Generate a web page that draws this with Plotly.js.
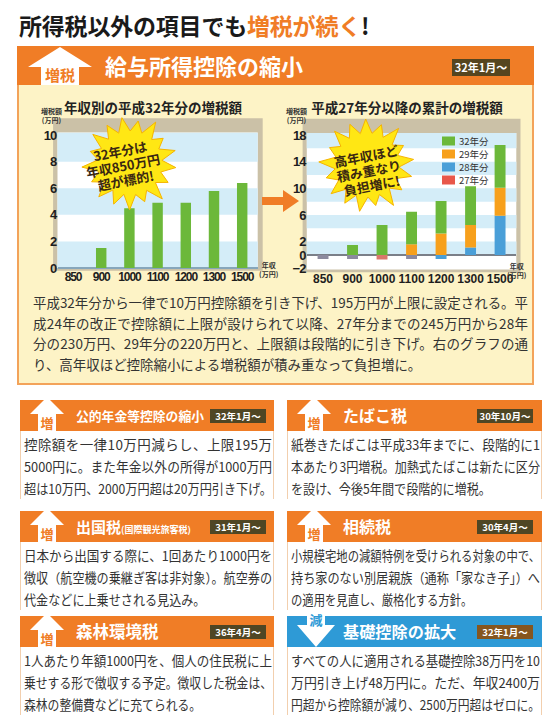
<!DOCTYPE html>
<html lang="ja"><head><meta charset="utf-8">
<script src="https://cdn.plot.ly/plotly-3.0.1.min.js"></script>
<style>
html,body{margin:0;padding:0;}
body{width:550px;height:720px;background:#fff;position:relative;overflow:hidden;font-family:"Noto Sans CJK JP","Noto Sans",sans-serif;color:#333;}
.a{position:absolute;}
#title{left:19px;top:8px;font-size:23px;font-weight:700;color:#1a1a1a;white-space:nowrap;line-height:34px;letter-spacing:-0.2px;}
#title .or{color:#f07d26;}
#mainHead{left:17px;top:46px;width:517px;height:39px;background:#f07d26;}
#mainHead .ttl{position:absolute;left:88px;top:0;line-height:39px;font-size:22px;font-weight:700;color:#fff;white-space:nowrap;}
#panel{left:17px;top:85px;width:513px;height:298px;background:#fdf3c6;border:2px solid #f3a35a;border-top:none;}
.ctitle{position:absolute;top:97px;font-size:13.5px;font-weight:700;color:#222;white-space:nowrap;transform:translateX(-50%);line-height:20px;}
#plot{left:17px;top:88px;width:517px;height:205px;}
#plot .xtick text{letter-spacing:-1.1px;}
#plot .ytick text, #plot .y2tick text{letter-spacing:-0.8px;}
#over{left:0;top:0;width:550px;height:720px;pointer-events:none;}
.badge{position:absolute;color:#fff;font-weight:700;text-align:center;white-space:nowrap;}
.block{position:absolute;}
.line{position:absolute;left:0;white-space:nowrap;}
.ln{display:inline-block;transform-origin:0 50%;}
.bhead{position:absolute;height:31px;}
.bhead .ttl{position:absolute;top:0;line-height:31px;color:#fff;font-weight:700;white-space:nowrap;}
.bbody{position:absolute;background:#fff;border-left:1px solid #f2cfae;border-right:1px solid #f2cfae;}
</style></head><body>

<div id="title" class="a">所得税以外の項目でも<span class="or">増税が続く</span>!</div>

<div id="panel" class="a"></div>
<div id="mainHead" class="a">
  <svg class="a" style="left:0;top:0;overflow:visible" width="100" height="39">
    <polygon points="43,1 11,21 24,21 24,39 62,39 62,21 75,21" fill="#fff"/>
    <text x="43" y="35" text-anchor="middle" font-size="15" font-weight="700" fill="#f07d26" font-family="Noto Sans CJK JP">増税</text>
  </svg>
  <div class="ttl">給与所得控除の縮小</div>
  <div class="badge" style="left:435px;top:13px;width:58px;height:17px;line-height:17px;font-size:11px;background:#55451f;">32年1月～</div>
</div>

<div class="ctitle" style="left:153px;">年収別の平成32年分の増税額</div>
<div class="ctitle" style="left:407px;">平成27年分以降の累計の増税額</div>

<div id="plot" class="a"></div>
<svg id="over" class="a"></svg>

<div id="para" class="block" style="left:33px;top:292px;width:495px;font-size:13.5px;color:#333;"></div>
<div id="boxes"></div>

<script>
// ---------- chart data ----------
const incomeCats = ['850','900','1000','1100','1200','1300','1500'];
const increase32 = [0, 1.5, 4.5, 4.9, 4.9, 5.8, 6.4];           // 年収別の平成32年分の増税額
const cum32 = [0, 1.5, 4.5, 4.9, 4.9, 5.8, 6.4];                // 32年分
const cum29 = [0, 0, 0, 1.6, 3.2, 3.4, 4.2];                    // 29年分
const cum28 = [0, 0, 0, 0, -0.6, 1.1, 5.9];                     // 28年分
const cum27 = [-0.6, -0.6, -0.7, -0.6, 0, 0, 0];                // 27年分
const seriesNames = ['27年分', '28年分', '29年分', '32年分'];
const leftTicks = [0, 2, 4, 6, 8, 10];
const rightTicks = [-2, 0, 2, 6, 10, 14, 18];

// ---------- styles ----------
const C = {g:'#6cb83a', o:'#f7a01c', b:'#4a9fd8', r:'#e8574a'};
const neg27Colors = ['#8c8a9e','#8c8a9e','#d9786c','#8c8a9e','#8c8a9e','#8c8a9e','#8c8a9e'];
const W = 517, H = 205, OX = 17, OY = 88;
const px = v => (v - OX) / W;
const py = v => 1 - (v - OY) / H;
const tickFont = {family:'"Liberation Sans Narrow","Liberation Sans",sans-serif', size:13, color:'#1e1e1e', weight:'bold'};
const xTickFont = {family:'"Liberation Sans Narrow","Liberation Sans",sans-serif', size:12, color:'#1e1e1e', weight:'bold'};

const bw = 0.37;
const traces = [
  {type:'bar', x:incomeCats, y:increase32, xaxis:'x', yaxis:'y', marker:{color:C.g}, width:bw, name:'32年分'},
  {type:'bar', x:incomeCats, y:cum27, xaxis:'x2', yaxis:'y2', marker:{color:neg27Colors}, width:bw, name:seriesNames[0]},
  {type:'bar', x:incomeCats, y:cum28, xaxis:'x2', yaxis:'y2', marker:{color:C.b}, width:bw, name:seriesNames[1]},
  {type:'bar', x:incomeCats, y:cum29, xaxis:'x2', yaxis:'y2', marker:{color:C.o}, width:bw, name:seriesNames[2]},
  {type:'bar', x:incomeCats, y:cum32, xaxis:'x2', yaxis:'y2', marker:{color:C.g}, width:bw, name:seriesNames[3]}
];

function bands(xr, yr, list){
  return list.map(b => ({type:'rect', xref:xr+' domain', yref:yr, x0:0, x1:1, y0:b[0], y1:b[1],
    fillcolor:'#d4edf8', line:{width:0}, layer:'below'}));
}
const shapes = [
  {type:'rect', xref:'x domain', yref:'y domain', x0:-0.022, x1:1.025, y0:-0.02, y1:1.105, fillcolor:'#cbc1a7', line:{width:0}, layer:'below'},
  {type:'rect', xref:'x domain', yref:'y domain', x0:0, x1:1, y0:0, y1:1, fillcolor:'#ffffff', line:{width:0}, layer:'below'},
  ...bands('x','y',[[0,2],[4,6],[8,10.2]]),
  {type:'rect', xref:'x2 domain', yref:'y2 domain', x0:-0.02, x1:1.02, y0:-0.02, y1:1.105, fillcolor:'#cbc1a7', line:{width:0}, layer:'below'},
  {type:'rect', xref:'x2 domain', yref:'y2 domain', x0:0, x1:1, y0:0, y1:1, fillcolor:'#ffffff', line:{width:0}, layer:'below'},
  ...bands('x2','y2',[[0,2],[4,6],[8,10],[12,14],[16,18.3]])
];

// custom compact legend (top to bottom: 32, 29, 28, 27)
const legColors = [C.r, C.b, C.o, C.g];
const annotations = [];
[3,2,1,0].forEach((si,k) => {
  const yc = 141 + k*13;
  shapes.push({type:'rect', xref:'paper', yref:'paper', x0:px(442), x1:px(455), y0:py(yc+4.5), y1:py(yc-4.5),
    fillcolor:legColors[si], line:{width:0}});
  annotations.push({xref:'paper', yref:'paper', x:px(458), y:py(yc), xanchor:'left', yanchor:'middle',
    text:seriesNames[si], showarrow:false, borderpad:0, font:{size:9.5, color:'#333', family:'Noto Sans CJK JP'}});
});
const axLab = {size:7, color:'#333', family:'Noto Sans CJK JP', weight:'bold'};
annotations.push({xref:'paper', yref:'paper', x:px(40), y:py(115), yanchor:'middle', text:'増税額<br>(万円)', showarrow:false, borderpad:0, font:axLab, align:'center'});
annotations.push({xref:'paper', yref:'paper', x:px(296), y:py(115), yanchor:'middle', text:'増税額<br>(万円)', showarrow:false, borderpad:0, font:axLab, align:'center'});
annotations.push({xref:'paper', yref:'paper', x:px(269), y:py(280), text:'年収<br>(万円)', showarrow:false, borderpad:0, font:axLab, align:'center'});
annotations.push({xref:'paper', yref:'paper', x:px(528), y:py(281), text:'年収<br>(万円)', showarrow:false, borderpad:0, font:axLab, align:'center'});

const layout = {
  width:W, height:H, margin:{l:0,r:0,t:0,b:0},
  paper_bgcolor:'rgba(0,0,0,0)', plot_bgcolor:'rgba(0,0,0,0)',
  showlegend:false, barmode:'relative',
  xaxis:{domain:[px(57.5), px(257.7)], type:'category', range:[-0.55,6.55], tickangle:0, showgrid:false, zeroline:false, showline:false, ticks:'', tickfont:xTickFont, fixedrange:true},
  yaxis:{domain:[py(268), py(132.4)], range:[0,10.2], tickvals:leftTicks, showgrid:false, zeroline:true, zerolinecolor:'#86a6bb', zerolinewidth:1.5, showline:false, ticks:'', tickfont:tickFont},
  xaxis2:{anchor:'y2', domain:[px(306.8), px(516.3)], type:'category', range:[-0.55,6.55], tickangle:0, showgrid:false, zeroline:false, showline:false, ticks:'', tickfont:xTickFont},
  yaxis2:{anchor:'x2', domain:[py(269.6), py(133)], range:[-2.2,18.3], tickvals:rightTicks, showgrid:false, zeroline:true, zerolinecolor:'#7a7f88', zerolinewidth:1.2, showline:false, ticks:'', tickfont:tickFont},
  shapes, annotations
};
Plotly.newPlot('plot', traces, layout, {staticPlot:true, displayModeBar:false});

// ---------- decorations (starbursts, arrow) ----------
function burst(cx, cy, ro, ri, n, rot){
  const pat = [1, 0.93, 1.05, 0.9, 1.02, 0.96];
  const pts = [];
  for (let i = 0; i < 2*n; i++){
    const r = i % 2 ? ri : ro * pat[(i/2|0) % pat.length];
    const a = rot + Math.PI * i / n;
    pts.push((cx + r*Math.cos(a)).toFixed(1) + ',' + (cy + r*Math.sin(a)).toFixed(1));
  }
  return pts.join(' ');
}
const ov = document.getElementById('over');
function starText(cx, cy, lines){
  let s = `<g transform="rotate(-11 ${cx} ${cy})">`;
  lines.forEach((t,i) => {
    s += `<text x="${cx}" y="${cy + (i-1)*15 + 5}" text-anchor="middle" font-family="Noto Sans CJK JP" font-weight="700" font-size="13" fill="#3a2812">${t}</text>`;
  });
  return s + '</g>';
}
ov.innerHTML =
  `<polygon points="${burst(130,163,46,32,17,0.1)}" fill="#ffe714" stroke="#f6b400" stroke-width="1"/>` +
  starText(123, 166, ['32年分は','年収850万円','超が標的!']) +
  `<polygon points="${burst(367,165,46,32,17,0.25)}" fill="#ffe714" stroke="#f6b400" stroke-width="1"/>` +
  starText(369, 171, ['高年収ほど','積み重なり','負担増に!']) +
  `<polygon points="262,197 283,197 283,190 299,201 283,212 283,205 262,205" fill="#f07d26"/>`;

// ---------- text blocks ----------
const paraLines = [
  ['平成32年分から一律で10万円控除額を引き下げ、195万円が上限に設定される。平',1],
  ['成24年の改正で控除額に上限が設けられて以降、27年分までの245万円から28年',1],
  ['分の230万円、29年分の220万円と、上限額は段階的に引き下げ。右のグラフの通',1],
  ['り、高年収ほど控除縮小による増税額が積み重なって負担増に。',0]
];
function fillBlock(el, lines, lh){
  el.innerHTML = lines.map((l,i) => `<div class="line" style="top:${i*lh}px;height:${lh}px;line-height:${lh}px;"><span class="ln" data-full="${l[1]}">${l[0]}</span></div>`).join('');
}
fillBlock(document.getElementById('para'), paraLines, 20.7);

const boxes = [
  {x:20, y:400, w:254, kind:'up', title:'公的年金等控除の縮小', ts:12.8, date:'32年1月～', bx:190,
   lines:[['控除額を一律10万円減らし、上限195万',1],['5000円に。また年金以外の所得が1000万円',1],['超は10万円、2000万円超は20万円引き下げ。',1]]},
  {x:287, y:400, w:255, kind:'up', title:'たばこ税', ts:16, date:'30年10月～', bx:190,
   lines:[['紙巻きたばこは平成33年までに、段階的に1',1],['本あたり3円増税。加熱式たばこは新たに区分',1],['を設け、今後5年間で段階的に増税。',0]]},
  {x:20, y:511, w:254, kind:'up', title:'出国税<span style="font-size:9px">(国際観光旅客税)</span>', ts:15, date:'31年1月～', bx:190,
   lines:[['日本から出国する際に、1回あたり1000円を',1],['徴収（航空機の乗継ぎ客は非対象）。航空券の',1],['代金などに上乗せされる見込み。',0]]},
  {x:287, y:511, w:255, kind:'up', title:'相続税', ts:16, date:'30年4月～', bx:190,
   lines:[['小規模宅地の減額特例を受けられる対象の中で、',1],['持ち家のない別居親族（通称「家なき子」）へ',1],['の適用を見直し、厳格化する方針。',0]]},
  {x:20, y:616, w:254, kind:'up', title:'森林環境税', ts:16.5, date:'36年4月～', bx:190,
   lines:[['1人あたり年額1000円を、個人の住民税に上',1],['乗せする形で徴収する予定。徴収した税金は、',1],['森林の整備費などに充てられる。',0]]},
  {x:287, y:616, w:255, kind:'down', title:'基礎控除の拡大', ts:16.2, date:'32年1月～', bx:190,
   lines:[['すべての人に適用される基礎控除38万円を10',1],['万円引き上げ48万円に。ただ、年収2400万',1],['円超から控除額が減り、2500万円超はゼロに。',1]]}
];
const bc = document.getElementById('boxes');
boxes.forEach(b => {
  const col = b.kind === 'up' ? '#f07d26' : '#2e9ad6';
  const badgeCol = b.kind === 'up' ? '#4f4624' : '#86561f';
  let arrow;
  if (b.kind === 'up') {
    arrow = `<svg class="a" style="left:0;top:0;overflow:visible" width="60" height="31">
      <polygon points="27,-3 10,14 18,14 18,31 36,31 36,14 44,14" fill="#fff"/>
      <text x="27" y="28" text-anchor="middle" font-size="13" font-weight="700" fill="#f07d26" font-family="Noto Sans CJK JP">増</text></svg>`;
  } else {
    arrow = `<svg class="a" style="left:0;top:0;overflow:visible" width="60" height="31">
      <polygon points="20,-6 38,-6 38,9 48,9 29,31 10,9 20,9" fill="#fff"/>
      <text x="29" y="9" text-anchor="middle" font-size="13" font-weight="700" fill="#2e9ad6" font-family="Noto Sans CJK JP">減</text></svg>`;
  }
  const d = document.createElement('div');
  d.innerHTML =
    `<div class="bbody" style="left:${b.x}px;top:${b.y+31}px;width:${b.w-2}px;height:68px;"></div>` +
    `<div class="bhead" style="left:${b.x}px;top:${b.y}px;width:${b.w}px;background:${col};">${arrow}
       <div class="ttl" style="left:56px;font-size:${b.ts}px;">${b.title}</div>
       <div class="badge" style="left:${b.bx}px;top:9px;width:56px;height:14px;line-height:14px;font-size:9.5px;background:${badgeCol};">${b.date}</div>
     </div>` +
    `<div class="block tb" style="left:${b.x+4}px;top:${b.y+33}px;width:${b.w-6}px;font-size:13.5px;color:#333;"></div>`;
  bc.appendChild(d);
  fillBlock(d.querySelector('.tb'), b.lines, 22);
});

// fit lines to block width (justify full lines)
document.querySelectorAll('.block').forEach(block => {
  const Wd = block.clientWidth;
  const lns = [...block.querySelectorAll('.ln')];
  let minS = 1, ls = null;
  lns.forEach(l => {
    if (l.dataset.full === '1') {
      const w = l.getBoundingClientRect().width;
      if (w > Wd) { const s = Wd / w; l.style.transform = `scaleX(${s})`; minS = Math.min(minS, s); }
      else { const n = l.textContent.length; const sp = (Wd - w) / Math.max(1, n - 1); l.style.letterSpacing = sp + 'px'; ls = ls === null ? sp : Math.min(ls, sp); }
    }
  });
  lns.forEach(l => {
    if (l.dataset.full !== '1') {
      if (minS < 1) l.style.transform = `scaleX(${minS})`;
      else if (ls !== null) l.style.letterSpacing = ls + 'px';
    }
  });
});
</script>
</body></html>
